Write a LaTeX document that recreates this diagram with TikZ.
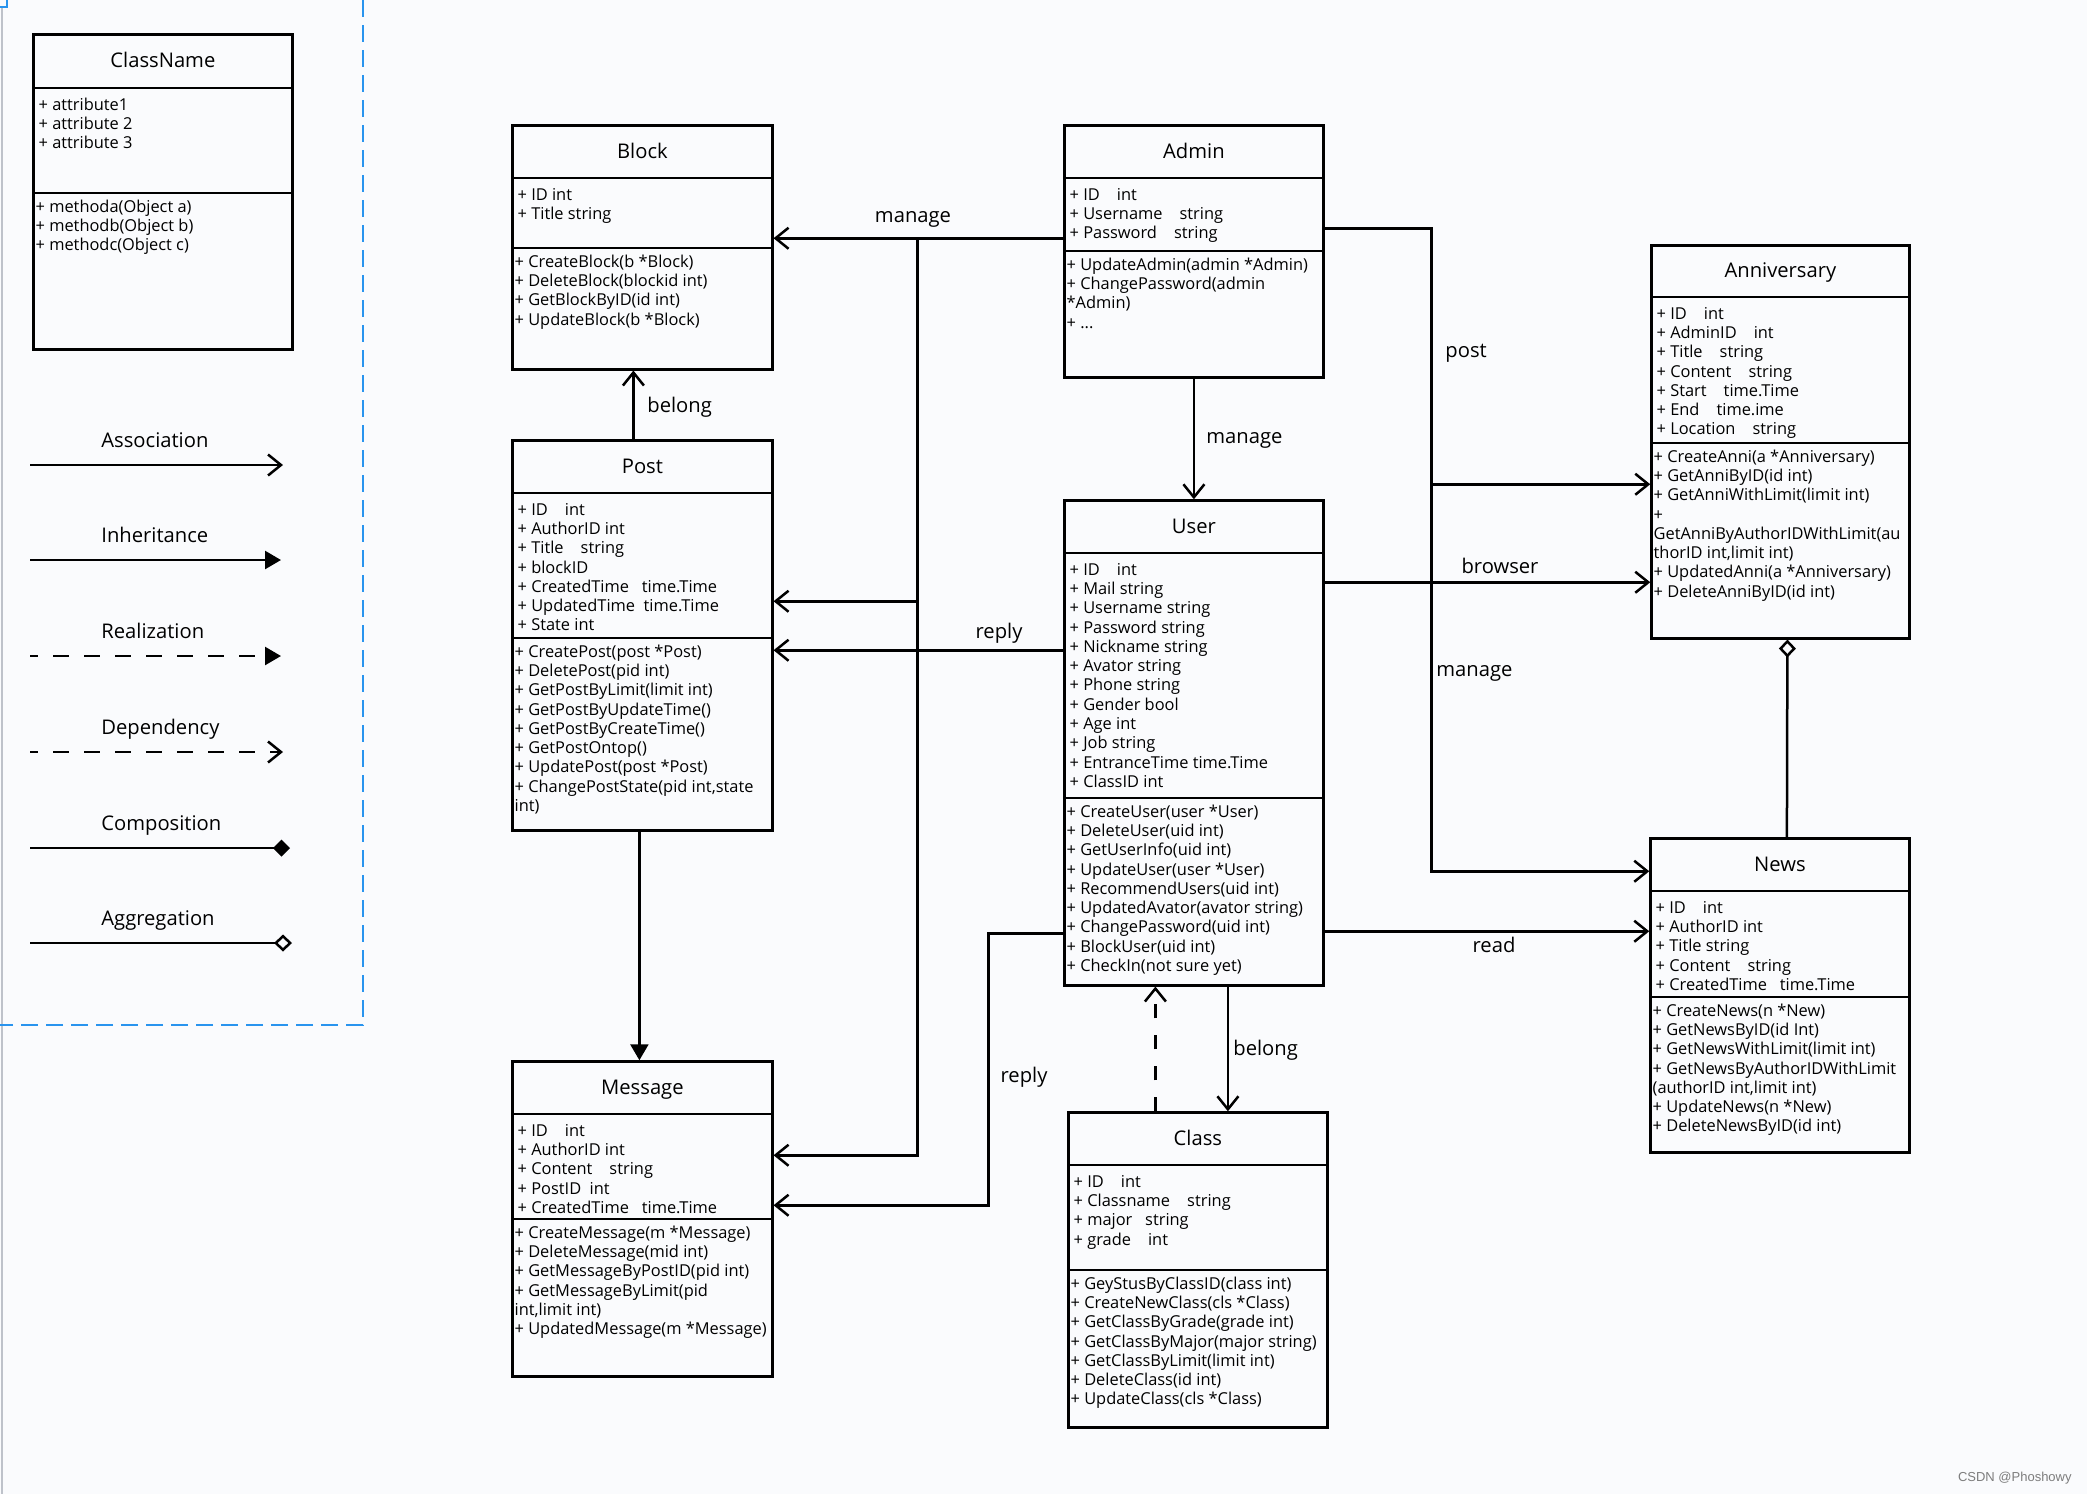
\documentclass[tikz,border=0pt]{standalone}
\usepackage{fontspec}
\setmainfont{Open Sans}
\newfontfamily\markfont{Liberation Sans}
\usetikzlibrary{arrows.meta,calc,positioning}

\definecolor{bgcol}{RGB}{250,251,253}
\definecolor{selblue}{RGB}{41,148,238}
\definecolor{framegray}{RGB}{190,194,202}
\definecolor{markgray}{RGB}{125,125,125}

\newcommand{\bodyfont}{\fontsize{8.2pt}{9.65pt}\selectfont}
\newcommand{\headfont}{\fontsize{10.1pt}{12pt}\selectfont}

\tikzset{
    x=0.5pt, y=-0.5pt, % one unit is one pixel of the drawing
    classbox/.style={draw, rectangle, line width=1.4pt, inner sep=0pt, anchor=north west},
    sepline/.style={line width=0.8pt},
    titletext/.style={font=\headfont, anchor=base, inner sep=0pt},
    membertext/.style={font=\bodyfont, anchor=north west, align=left, inner sep=0pt},
    lbl/.style={font=\headfont, anchor=base, inner sep=0pt},
    lblw/.style={font=\headfont, anchor=base west, inner sep=0pt},
    conn/.style={line width=1.25pt},
    assoc/.style={conn, -{Straight Barb[length=6.5pt,width=10.5pt]}},
    inherit/.style={conn, -{Triangle[length=8pt,width=9pt]}},
    depend/.style={conn, dash pattern=on 7pt off 8.5pt, -{Straight Barb[length=6.5pt,width=10.5pt]}},
    legenddash/.style={dash pattern=on 8pt off 7.5pt, dash phase=4pt},
    compose/.style={conn, -{Diamond[length=8.5pt,width=8.5pt]}},
    aggreg/.style={conn, -{Diamond[open,fill=bgcol,length=9pt,width=8.5pt]}},
    legendframe/.style={selblue, line width=1pt, dash pattern=on 8.5pt off 4pt},
}

% name, top left, width, height, header height, attribute height, title, attributes, methods
\newcommand{\umlclass}[9]{%
  \node[classbox, minimum width=(#3-2.5)*0.5pt, minimum height=(#4-2.5)*0.5pt] (#1) at ($(#2)+(1.25,1.25)$) {};
  \draw[sepline] ($(#1.north west)+(0,#5)$) -- ($(#1.north east)+(0,#5)$);
  \draw[sepline] ($(#1.north west)+(0,#5+#6)$) -- ($(#1.north east)+(0,#5+#6)$);
  \node[titletext] (#1-title) at ($(#1.north)+(0,#5/2+7)$) {#7};
  \node[membertext] (#1-attr) at ($(#1.north west)+(6,#5+8)$) {\strut#8};
  \node[membertext] (#1-meth) at ($(#1.north west)+(3,#5+#6+5)$) {\strut#9};
}

\begin{document}
\begin{tikzpicture}
  \useasboundingbox (0,0) rectangle (2087,1494);
  \fill[bgcol] (0,0) rectangle (2087,1494);

  % legend frame
  \draw[framegray, line width=1pt] (1.5,8) -- (1.5,1494);
  \draw[selblue, line width=1pt] (0,7) -| (7,0);
  \draw[legendframe] (363,0) |- (0,1025);

  % legend
  \umlclass{classname}{31,32}{261}{317}{55}{105}{ClassName}
    {+ attribute1\\+ attribute 2\\+ attribute 3}
    {+ methoda(Object a)\\+ methodb(Object b)\\+ methodc(Object c)}

  \node[lblw] (lg-assoc)   at (101,447) {Association};
  \node[lblw] (lg-inherit) at (101,542) {Inheritance};
  \node[lblw] (lg-real)    at (101,638) {Realization};
  \node[lblw] (lg-dep)     at (101,734) {Dependency};
  \node[lblw] (lg-comp)    at (101,830) {Composition};
  \node[lblw] (lg-aggr)    at (101,925) {Aggregation};

  \coordinate (assoc-s) at (30,465);   \coordinate (assoc-e) at (283,465);
  \coordinate (inherit-s) at (30,560); \coordinate (inherit-e) at (281,560);
  \coordinate (real-s) at (30,656);    \coordinate (real-e) at (281,656);
  \coordinate (dep-s) at (30,752);     \coordinate (dep-e) at (283,752);
  \coordinate (comp-s) at (30,848);    \coordinate (comp-e) at (290,848);
  \coordinate (aggr-s) at (30,943);    \coordinate (aggr-e) at (292,943);

  \draw[assoc] (assoc-s) -- (assoc-e);
  \draw[inherit] (inherit-s) -- (inherit-e);
  \draw[inherit, legenddash] (real-s) -- (real-e);
  \draw[assoc, legenddash] (dep-s) -- (dep-e);
  \draw[compose] (comp-s) -- (comp-e);
  \draw[aggreg] (aggr-s) -- (aggr-e);

  % classes
  \umlclass{block}{510,123}{262}{246}{54}{70}{Block}
    {+ ID int\\+ Title string}
    {+ CreateBlock(b *Block)\\+ DeleteBlock(blockid int)\\+ GetBlockByID(id int)\\+ UpdateBlock(b *Block)}

  \umlclass{post}{510,438}{262}{392}{54}{145}{Post}
    {+ ID~~~~int\\+ AuthorID int\\+ Title~~~~string\\+ blockID\\+ CreatedTime~~~time.Time\\+ UpdatedTime~~time.Time\\+ State int}
    {+ CreatePost(post *Post)\\+ DeletePost(pid int)\\+ GetPostByLimit(limit int)\\+ GetPostByUpdateTime()\\+ GetPostByCreateTime()\\+ GetPostOntop()\\+ UpdatePost(post *Post)\\+ ChangePostState(pid int,state\\int)}

  \umlclass{message}{510,1059}{262}{317}{54}{105}{Message}
    {+ ID~~~~int\\+ AuthorID int\\+ Content~~~~string\\+ PostID~~int\\+ CreatedTime~~~time.Time}
    {+ CreateMessage(m *Message)\\+ DeleteMessage(mid int)\\+ GetMessageByPostID(pid int)\\+ GetMessageByLimit(pid\\int,limit int)\\+ UpdatedMessage(m *Message)}

  \umlclass{admin}{1062,123}{261}{254}{54}{73}{Admin}
    {+ ID~~~~int\\+ Username~~~~string\\+ Password~~~~string}
    {+ UpdateAdmin(admin *Admin)\\+ ChangePassword(admin\\*Admin)\\+ ...}

  \umlclass{user}{1062,498}{261}{487}{54}{245}{User}
    {+ ID~~~~int\\+ Mail string\\+ Username string\\+ Password string\\+ Nickname string\\+ Avator string\\+ Phone string\\+ Gender bool\\+ Age int\\+ Job string\\+ EntranceTime time.Time\\+ ClassID int}
    {+ CreateUser(user *User)\\+ DeleteUser(uid int)\\+ GetUserInfo(uid int)\\+ UpdateUser(user *User)\\+ RecommendUsers(uid int)\\+ UpdatedAvator(avator string)\\+ ChangePassword(uid int)\\+ BlockUser(uid int)\\+ CheckIn(not sure yet)}

  \umlclass{class}{1066,1110}{261}{317}{54}{105}{Class}
    {+ ID~~~~int\\+ Classname~~~~string\\+ major~~~string\\+ grade~~~~int}
    {+ GeyStusByClassID(class int)\\+ CreateNewClass(cls *Class)\\+ GetClassByGrade(grade int)\\+ GetClassByMajor(major string)\\+ GetClassByLimit(limit int)\\+ DeleteClass(id int)\\+ UpdateClass(cls *Class)}

  \umlclass{anniversary}{1649,243}{260}{395}{53}{146}{Anniversary}
    {+ ID~~~~int\\+ AdminID~~~~int\\+ Title~~~~string\\+ Content~~~~string\\+ Start~~~~time.Time\\+ End~~~~time.ime\\+ Location~~~~string}
    {+ CreateAnni(a *Anniversary)\\+ GetAnniByID(id int)\\+ GetAnniWithLimit(limit int)\\+\\GetAnniByAuthorIDWithLimit(au\\thorID int,limit int)\\+ UpdatedAnni(a *Anniversary)\\+ DeleteAnniByID(id int)}

  \umlclass{news}{1648,836}{261}{316}{54}{106}{News}
    {+ ID~~~~int\\+ AuthorID int\\+ Title string\\+ Content~~~~string\\+ CreatedTime~~~time.Time}
    {+ CreateNews(n *New)\\+ GetNewsByID(id Int)\\+ GetNewsWithLimit(limit int)\\+ GetNewsByAuthorIDWithLimit\\(authorID int,limit int)\\+ UpdateNews(n *New)\\+ DeleteNewsByID(id int)}

  % connectors
  \coordinate (manage-split) at ($(block.north east)+(144,114)$);
  \draw[assoc] ($(admin.north west)+(0,114)$) -- ($(block.north east)+(0,114)$);
  \draw[assoc] (manage-split) |- ($(post.north east)+(0,162)$);
  \draw[assoc] (manage-split) |- ($(message.north east)+(0,95)$);
  \draw[assoc] ($(post.north)+(-9,0)$) -- ($(block.south)+(-9,0)$);
  \draw[inherit] ($(post.south)+(-3,0)$) -- ($(message.north)+(-3,0)$);
  \draw[assoc] ($(user.north west)+(0,151)$) -- ($(post.north east)+(0,211)$);
  \draw[assoc] ($(user.north west)+(0,434)$) -- ++(-75,0) |- ($(message.north east)+(0,145)$);
  \draw[assoc] (admin.south) -- (user.north);
  \draw[assoc] ($(admin.north east)+(0,104)$) -- ++(107,0) |- ($(anniversary.north west)+(0,240)$);
  \draw[assoc] ($(admin.north east)+(107,104)$) |- ($(news.north west)+(0,34)$);
  \draw[assoc] ($(user.north east)+(0,83)$) -- ($(anniversary.north west)+(0,338)$);
  \draw[assoc] ($(user.north east)+(0,432)$) -- ($(news.north west)+(0,94)$);
  \draw[aggreg] ($(news.north)+(7,0)$) -- ($(anniversary.south)+(7,0)$);
  \draw[assoc] ($(user.south)+(34,0)$) -- ($(class.north)+(30,0)$);
  \draw[depend] ($(class.north)+(-42.5,0)$) -- ($(user.south)+(-38.5,0)$);

  % connector labels
  \node[lbl]  (lbl-manage-block) at (913,222)  {manage};
  \node[lblw] (lbl-belong-post)  at (647,412)  {belong};
  \node[lbl]  (lbl-reply-post)   at (999,638)  {reply};
  \node[lbl]  (lbl-reply-msg)    at (1024,1082) {reply};
  \node[lblw] (lbl-manage-user)  at (1206,443) {manage};
  \node[lblw] (lbl-belong-class) at (1233,1055) {belong};
  \node[lblw] (lbl-post)         at (1445,357) {post};
  \node[lbl]  (lbl-browser)      at (1500,573) {browser};
  \node[lblw] (lbl-manage-news)  at (1436,676) {manage};
  \node[lbl]  (lbl-read)         at (1494,952) {read};

  \node[font=\markfont\fontsize{6.5pt}{8pt}\selectfont, text=markgray, anchor=base east, inner sep=0pt] (watermark) at (2072,1481) {CSDN @Phoshowy};
\end{tikzpicture}
\end{document}
